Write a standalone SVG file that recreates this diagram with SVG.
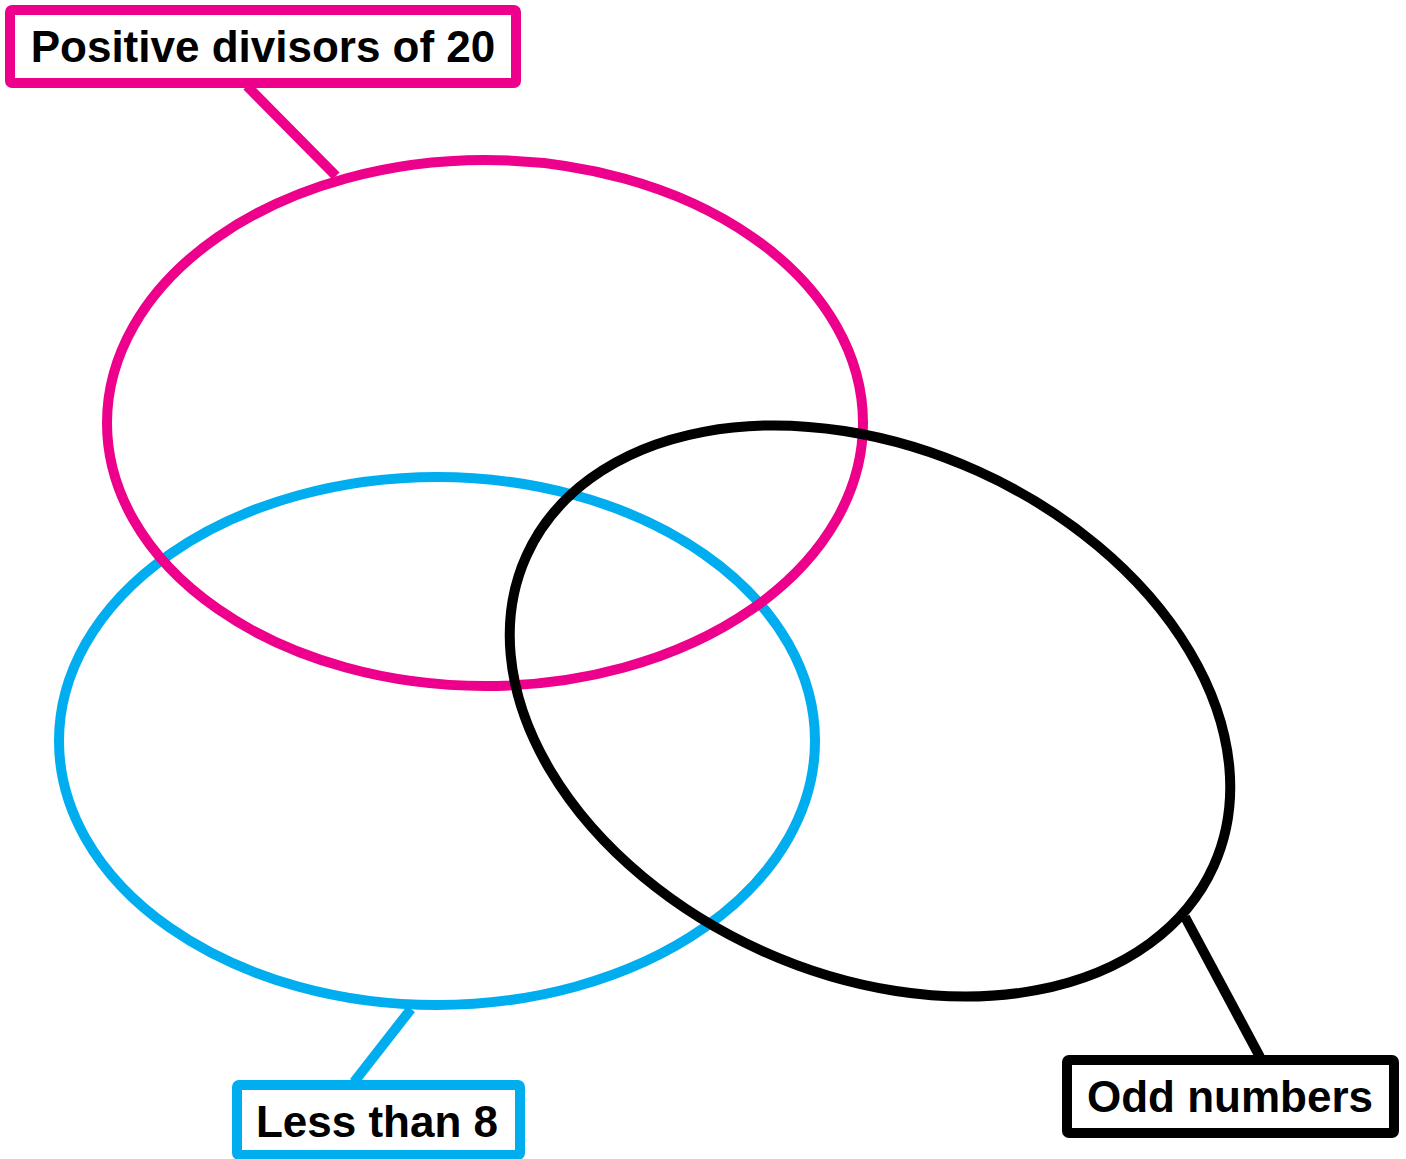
<svg xmlns="http://www.w3.org/2000/svg" width="1406" height="1159" viewBox="0 0 1406 1159">
<style>
.set{fill:none;stroke-width:10}
.box{fill:#fff;stroke-width:10;stroke-linejoin:round}
.lbl{font-family:"Liberation Sans",Arial,sans-serif;font-weight:bold;font-size:44px;fill:#000;text-anchor:middle}
.pink{stroke:#EC008C}
.blue{stroke:#00AEEF}
.black{stroke:#000}
</style>
<rect width="1406" height="1159" fill="#fff"/>
<g id="connectors" stroke-width="10" stroke-linecap="butt">
<line class="pink" x1="247" y1="86" x2="336" y2="176"/>
<line class="blue" x1="411" y1="1009" x2="354" y2="1082"/>
<line class="black" x1="1185" y1="917" x2="1260" y2="1057"/>
</g>
<g id="set-less-than-8">
<ellipse class="set blue" cx="437" cy="741" rx="378" ry="264"/>
</g>
<g id="set-divisors-20">
<ellipse class="set pink" cx="485" cy="423" rx="378" ry="263"/>
</g>
<g id="set-odd">
<ellipse class="set black" cx="870" cy="711" rx="377" ry="263" transform="rotate(24.3 870 711)"/>
</g>
<g id="label-divisors">
<rect class="box pink" x="10" y="10" width="506" height="73" rx="2"/>
<text class="lbl" x="263" y="62">Positive divisors of 20</text>
</g>
<g id="label-less">
<rect class="box blue" x="237" y="1085" width="283" height="70" rx="2"/>
<text class="lbl" x="377" y="1137">Less than 8</text>
</g>
<g id="label-odd">
<rect class="box black" x="1067" y="1060" width="327" height="73" rx="2"/>
<text class="lbl" x="1230" y="1112">Odd numbers</text>
</g>
</svg>
